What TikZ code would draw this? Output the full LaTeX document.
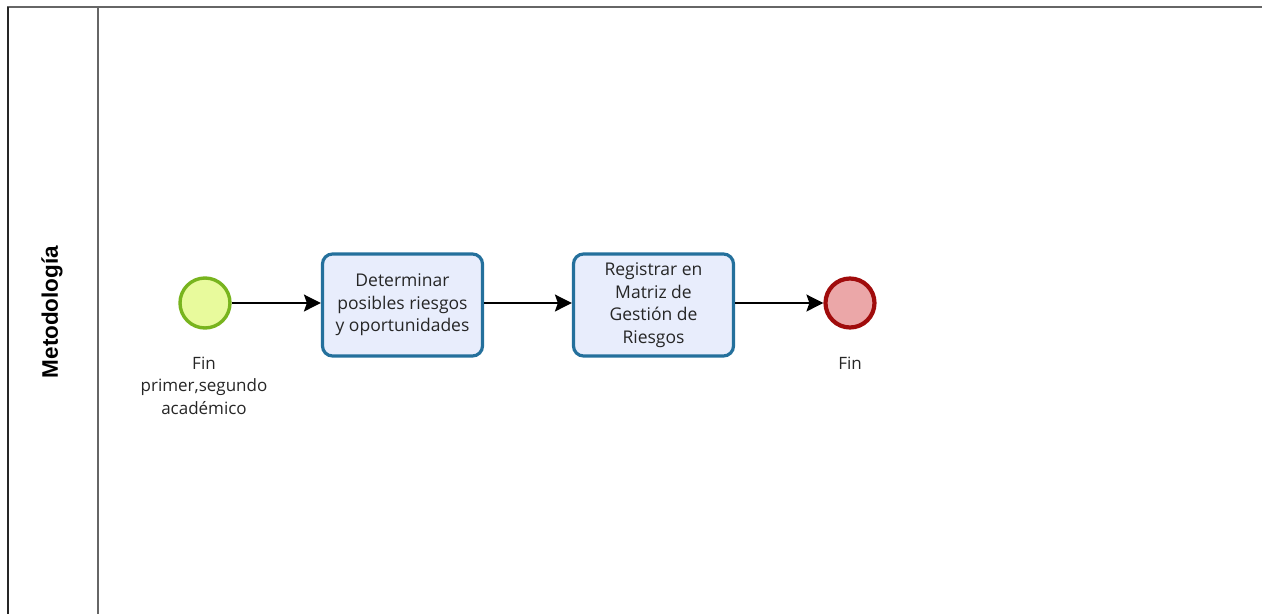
\documentclass[tikz,border=0pt]{standalone}
\usepackage{fontspec}
\setmainfont{Open Sans}
\newfontfamily\lanefont{Liberation Sans}
\usetikzlibrary{arrows.meta}
\definecolor{taskfill}{HTML}{E8EDFC}
\definecolor{taskline}{HTML}{24709C}
\definecolor{startfill}{HTML}{E8FA9C}
\definecolor{startline}{HTML}{78B41E}
\definecolor{endfill}{HTML}{EBA7A8}
\definecolor{endline}{HTML}{A00C0C}
\definecolor{lanegray}{HTML}{666666}
\begin{document}
\begin{tikzpicture}[x=1pt,y=-1pt,
  task/.style={draw=taskline, line width=3.2pt, fill=taskfill, rounded corners=10pt,
    minimum width=160pt, minimum height=102pt, inner sep=0pt, align=center,
    font=\fontsize{17.5}{22.5}\selectfont, text=black!85},
  startev/.style={circle, draw=startline, line width=3.4pt, fill=startfill, minimum size=50pt, inner sep=0pt},
  endev/.style={circle, draw=endline, line width=4.2pt, fill=endfill, minimum size=49pt, inner sep=0pt},
  evlabel/.style={align=center, font=\fontsize{17}{22.5}\selectfont, text=black!85},
  flow/.style={-{Stealth[length=17pt,width=17pt,inset=3pt]}, line width=1.4pt, black}]
\useasboundingbox (0,0) rectangle (1262,614);
% pool frame and lane header
\draw[lanegray, line width=2.2pt] (7,7) -- (1262,7);
\draw[black!85, line width=2.2pt] (8,7) -- (8,614);
\draw[lanegray, line width=2.4pt] (98,7) -- (98,614);
\node[rotate=90, font=\lanefont\bfseries\fontsize{22.5}{24}\selectfont] (lane) at (52,312) {Metodología};
% events and tasks
\node[startev] (start) at (205,303) {};
\node[task] (t1) at (402.5,305) {Determinar\\posibles riesgos\\y oportunidades};
\node[task] (t2) at (653.5,305) {Registrar en\\Matriz de\\Gestión de\\Riesgos};
\node[endev] (end) at (850,303) {};
\node[evlabel, anchor=north] (startlbl) at (204,353) {Fin\\primer,segundo\\académico};
\node[evlabel, anchor=north] (endlbl) at (850,353) {Fin};
% sequence flows
\draw[flow] (start) -- (t1.west |- start);
\draw[flow] (t1.east |- start) -- (t2.west |- start);
\draw[flow] (t2.east |- end) -- (end);
\end{tikzpicture}
\end{document}
